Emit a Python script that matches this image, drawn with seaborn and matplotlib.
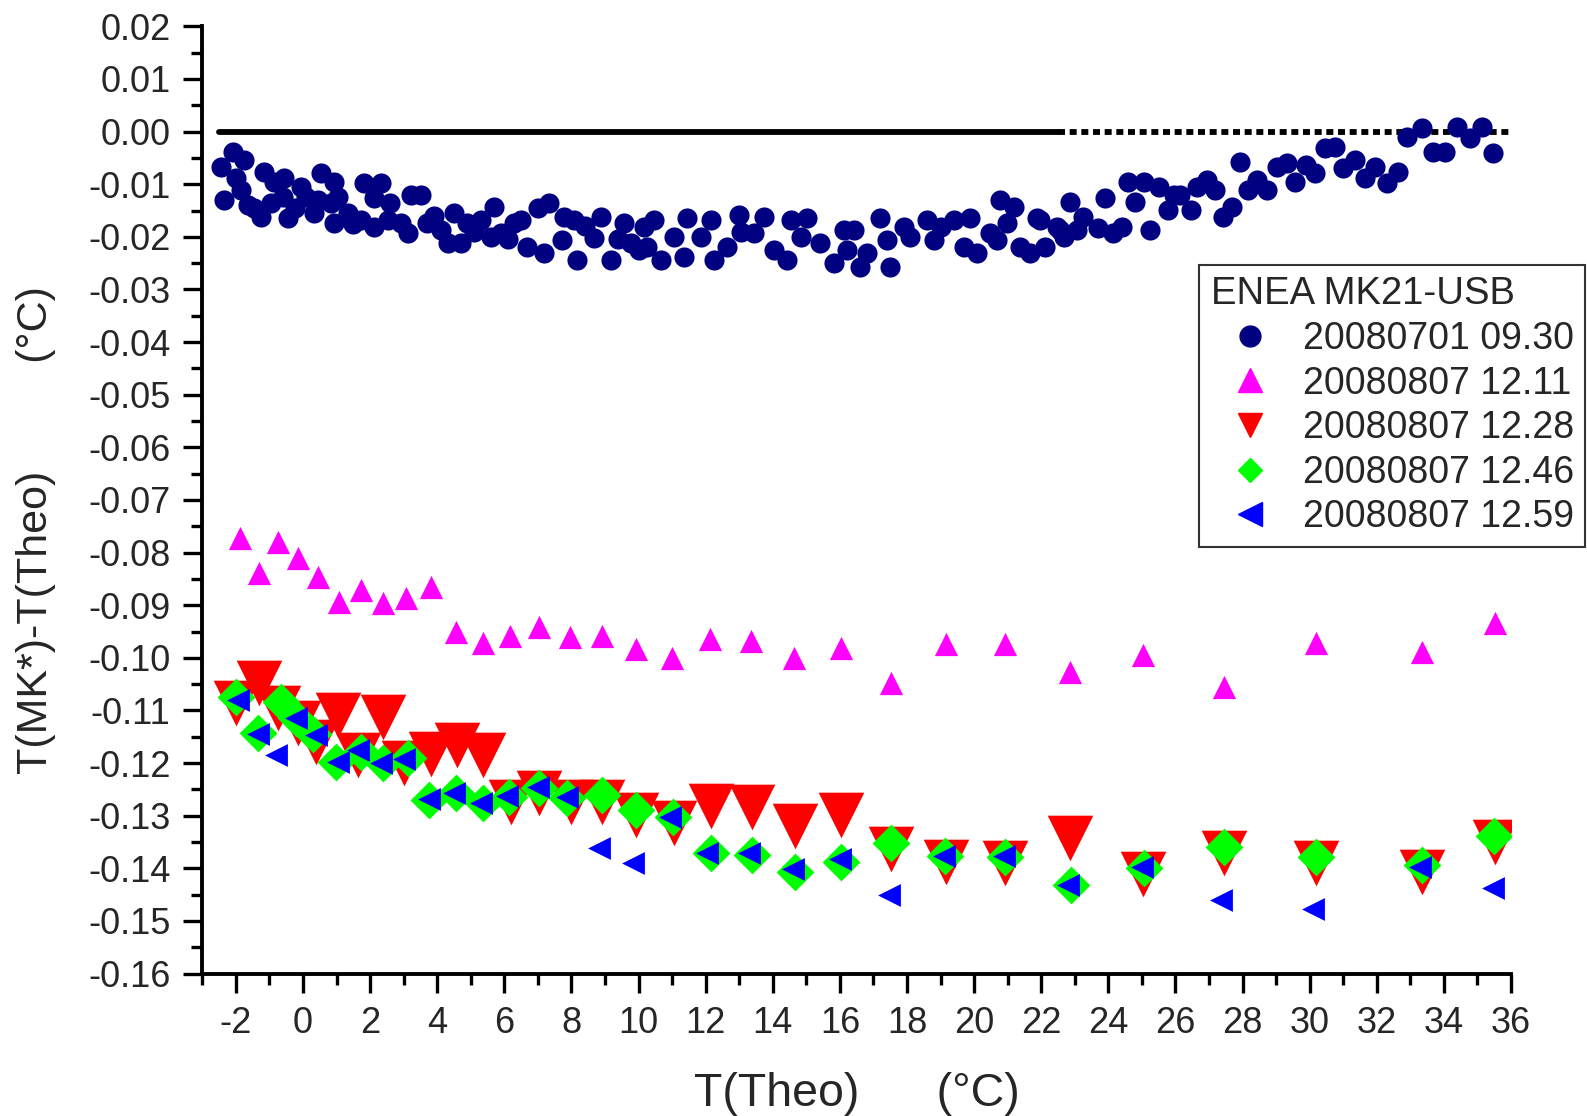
import matplotlib
matplotlib.use("Agg")
import matplotlib.pyplot as plt
from matplotlib.lines import Line2D
from matplotlib.ticker import MultipleLocator, FormatStrFormatter
import numpy as np
import pandas as pd
import seaborn as sns

# ---------------- data ----------------
navy_x = [-2.44, -2.34, -2.09, -2.0, -1.85, -1.75, -1.65, -1.45, -1.25, -1.15, -0.95, -0.85,
          -0.6, -0.56, -0.45, -0.25, -0.06, 0.1, 0.34, 0.44, 0.54, 0.83, 0.93, 0.93, 1.03,
          1.33, 1.5, 1.73, 1.83, 2.12, 2.12, 2.32, 2.52, 2.6, 2.92, 3.12, 3.22, 3.52, 3.71,
          3.9, 4.11, 4.31, 4.5, 4.7, 4.9, 5.1, 5.3, 5.6, 5.7, 5.9, 6.1, 6.3, 6.49, 6.69, 6.99,
          7.18, 7.33, 7.73, 7.78, 8.08, 8.18, 8.4, 8.67, 8.87, 9.17, 9.4, 9.57, 9.77, 10.0,
          10.16, 10.26, 10.46, 10.66, 11.05, 11.35, 11.45, 11.85, 12.15, 12.25, 12.64, 12.99,
          13.04, 13.44, 13.74, 14.03, 14.43, 14.53, 14.83, 15.03, 15.42, 15.82, 16.12, 16.21,
          16.41, 16.61, 16.81, 17.21, 17.4, 17.5, 17.9, 18.1, 18.6, 18.8, 19.0, 19.39, 19.69,
          19.89, 20.09, 20.48, 20.68, 20.78, 20.98, 21.18, 21.38, 21.68, 21.88, 21.97, 22.1,
          22.47, 22.57, 22.67, 22.86, 23.06, 23.26, 23.7, 23.9, 24.15, 24.4, 24.6, 24.8, 25.05,
          25.25, 25.5, 25.77, 25.95, 26.15, 26.45, 26.65, 26.95, 27.18, 27.42, 27.69, 27.93,
          28.17, 28.44, 28.74, 29.04, 29.33, 29.57, 29.9, 30.16, 30.45, 30.75, 31.0, 31.35,
          31.65, 31.95, 32.3, 32.63, 32.9, 33.35, 33.67, 34.03, 34.4, 34.78, 35.13, 35.46]
navy_y = [-0.0067, -0.0130, -0.0038, -0.0089, -0.0111, -0.0054, -0.0140, -0.0145, -0.0162,
          -0.0076, -0.0135, -0.0095, -0.0124, -0.0089, -0.0165, -0.0145, -0.0105, -0.0125,
          -0.0155, -0.0130, -0.0079, -0.0136, -0.0095, -0.0174, -0.0124, -0.0155, -0.0175,
          -0.0168, -0.0098, -0.0127, -0.0181, -0.0098, -0.0168, -0.0135, -0.0174, -0.0193,
          -0.0120, -0.0120, -0.0174, -0.0160, -0.0187, -0.0212, -0.0155, -0.0212, -0.0174,
          -0.0190, -0.0168, -0.0200, -0.0143, -0.0193, -0.0205, -0.0174, -0.0168, -0.0219,
          -0.0146, -0.0231, -0.0136, -0.0206, -0.0162, -0.0168, -0.0244, -0.0180, -0.0203,
          -0.0162, -0.0244, -0.0205, -0.0174, -0.0212, -0.0225, -0.0181, -0.0219, -0.0168,
          -0.0244, -0.0200, -0.0238, -0.0165, -0.0200, -0.0168, -0.0244, -0.0219, -0.0159,
          -0.0190, -0.0193, -0.0162, -0.0225, -0.0244, -0.0168, -0.0200, -0.0165, -0.0212,
          -0.0250, -0.0187, -0.0225, -0.0187, -0.0257, -0.0231, -0.0165, -0.0206, -0.0257,
          -0.0181, -0.0200, -0.0168, -0.0206, -0.0181, -0.0168, -0.0219, -0.0165, -0.0231,
          -0.0193, -0.0206, -0.0130, -0.0174, -0.0143, -0.0219, -0.0231, -0.0165, -0.0168,
          -0.0219, -0.0181, -0.0187, -0.0200, -0.0133, -0.0187, -0.0162, -0.0183, -0.0126,
          -0.0193, -0.0181, -0.0095, -0.0133, -0.0095, -0.0187, -0.0105, -0.0149, -0.0120,
          -0.0120, -0.0149, -0.0105, -0.0092, -0.0111, -0.0162, -0.0143, -0.0057, -0.0111,
          -0.0092, -0.0111, -0.0067, -0.0060, -0.0095, -0.0064, -0.0079, -0.0032, -0.0029,
          -0.0070, -0.0054, -0.0089, -0.0067, -0.0098, -0.0076, -0.0010, 0.0006, -0.0038,
          -0.0038, 0.0009, -0.0013, 0.0009, -0.0041]

mag_x = [-1.87, -1.30, -0.75, -0.16, 0.44, 1.08, 1.73, 2.37, 3.07, 3.81, 4.56, 5.35, 6.18,
         7.04, 7.96, 8.92, 9.93, 11.0, 12.14, 13.35, 14.64, 16.04, 17.53, 19.15, 20.92,
         22.87, 25.03, 27.45, 30.2, 33.34, 35.51]
mag_y = [-0.0773, -0.0838, -0.0779, -0.0811, -0.0846, -0.0893, -0.0871, -0.0896, -0.0887,
         -0.0865, -0.0950, -0.0972, -0.0958, -0.0941, -0.0960, -0.0958, -0.0984, -0.1000,
         -0.0965, -0.0968, -0.1001, -0.0981, -0.1047, -0.0974, -0.0974, -0.1027, -0.0994,
         -0.1056, -0.0972, -0.0989, -0.0933]

red_x = [-2.0, -1.30, -0.74, -0.16, 0.39, 1.05, 1.63, 2.39, 3.02, 3.81, 4.58, 5.35, 6.19,
         7.04, 7.98, 8.92, 9.91, 11.05, 12.15, 13.37, 14.65, 16.04, 17.53, 19.16, 20.93,
         22.87, 25.03, 27.45, 30.2, 33.35, 35.52]
red_y = [-0.1085, -0.1048, -0.1095, -0.1124, -0.1159, -0.1109, -0.1185, -0.1113, -0.1200,
         -0.1182, -0.1166, -0.1185, -0.1273, -0.1257, -0.1273, -0.1273, -0.1299, -0.1313,
         -0.1281, -0.1284, -0.1320, -0.1298, -0.1363, -0.1388, -0.1390, -0.1343, -0.1410,
         -0.1371, -0.1389, -0.1406, -0.1349]

green_x = [-2.0, -1.35, -0.65, -0.2, 0.3, 0.98, 1.73, 2.37, 3.12, 3.76, 4.56, 5.35, 6.14,
           7.04, 7.88, 8.92, 9.91, 11.03, 12.15, 13.37, 14.65, 16.04, 17.53, 19.14, 20.93,
           22.88, 25.05, 27.45, 30.2, 33.35, 35.5]
green_y = [-0.1074, -0.1143, -0.1083, -0.1115, -0.1145, -0.1197, -0.1178, -0.1200, -0.1191,
           -0.1270, -0.1256, -0.1276, -0.1264, -0.1248, -0.1267, -0.1261, -0.1289, -0.1303,
           -0.1370, -0.1374, -0.1406, -0.1387, -0.1351, -0.1377, -0.1378, -0.1432, -0.1400,
           -0.1360, -0.1379, -0.1394, -0.1338]

blue_x = [-1.94, -1.35, -0.80, -0.2, 0.39, 1.03, 1.63, 2.32, 3.02, 3.76, 4.50, 5.30, 6.09,
          6.99, 7.88, 8.82, 9.83, 10.94, 12.05, 13.3, 14.6, 16.0, 17.46, 19.1, 20.9, 22.8,
          25.0, 27.37, 30.11, 33.3, 35.46]
blue_y = [-0.1080, -0.1145, -0.1185, -0.1115, -0.1146, -0.1198, -0.1175, -0.1200, -0.1193,
          -0.1269, -0.1256, -0.1275, -0.1262, -0.1246, -0.1264, -0.1362, -0.1390, -0.1303,
          -0.1371, -0.1371, -0.1401, -0.1382, -0.1451, -0.1377, -0.1377, -0.1432, -0.1398,
          -0.1460, -0.1477, -0.1397, -0.1438]

zero_solid_x = [-2.49, 22.5]
zero_dotted_x = [22.5, 36.0]
zero_y = [0.0, 0.0]

series_labels = ["20080701 09.30", "20080807 12.11", "20080807 12.28",
                 "20080807 12.46", "20080807 12.59"]
legend_title = "ENEA MK21-USB"
x_label = "T(Theo)      (°C)"
y_label = "T(MK*)-T(Theo)         (°C)"

# ---------------- style ----------------
sns.set_style("ticks")
plt.rcParams['font.family'] = ['Liberation Sans', 'DejaVu Sans']
plt.rcParams['axes.unicode_minus'] = False

NAVY, MAG, RED, GREEN, BLUE = "#000080", "#FF00FF", "#FF0000", "#00FF00", "#0000FF"

fig = plt.figure(figsize=(15.87, 11.16), dpi=100)
ax = fig.add_axes([0.1275, 0.1276, 0.8246, 0.8488])

sns.lineplot(x=zero_solid_x, y=zero_y, ax=ax, color="black", lw=4.2, zorder=1)
sns.lineplot(x=zero_dotted_x, y=zero_y, ax=ax, color="black", lw=4.2,
             linestyle=(0, (1.2, 0.8)), zorder=1)

sns.scatterplot(x=navy_x, y=navy_y, ax=ax, color=NAVY, marker="o", s=210,
                linewidth=0, zorder=2)
sns.scatterplot(x=mag_x, y=mag_y, ax=ax, color=MAG, marker="^", s=280,
                linewidth=0, zorder=3)
sns.scatterplot(x=red_x, y=red_y, ax=ax, color=RED, marker="v", s=1080,
                linewidth=0, zorder=4)
sns.scatterplot(x=green_x, y=green_y, ax=ax, color=GREEN, marker="D", s=370,
                linewidth=0, zorder=5)
sns.scatterplot(x=blue_x, y=blue_y, ax=ax, color=BLUE, marker="<", s=270,
                linewidth=0, zorder=6)

ax.set_xlim(-3, 36)
ax.set_ylim(-0.16, 0.02)
ax.xaxis.set_major_locator(MultipleLocator(2))
ax.xaxis.set_minor_locator(MultipleLocator(1))
ax.yaxis.set_major_locator(MultipleLocator(0.01))
ax.yaxis.set_minor_locator(MultipleLocator(0.005))
ax.yaxis.set_major_formatter(FormatStrFormatter("%.2f"))

for side in ["top", "right"]:
    ax.spines[side].set_visible(False)
for side in ["left", "bottom"]:
    ax.spines[side].set_linewidth(2.8)
    ax.spines[side].set_color("black")

ax.tick_params(which="major", direction="out", length=14, width=2.4, labelsize=26,
               color="black", pad=9)
ax.tick_params(which="minor", direction="out", length=8, width=2.4, color="black")

ax.set_xlabel(x_label, fontsize=33.5)
ax.set_ylabel(y_label, fontsize=31)
ax.xaxis.set_label_coords(0.5, -0.104)
ax.yaxis.set_label_coords(-0.112, 0.468)

handles = [
    Line2D([], [], ls="", marker="o", color=NAVY, markersize=15),
    Line2D([], [], ls="", marker="^", color=MAG, markersize=17),
    Line2D([], [], ls="", marker="v", color=RED, markersize=17),
    Line2D([], [], ls="", marker="D", color=GREEN, markersize=12.5),
    Line2D([], [], ls="", marker="<", color=BLUE, markersize=17),
]
leg = fig.legend(handles, series_labels, title=legend_title, loc="upper right",
                 bbox_to_anchor=(0.9987, 0.7625), frameon=True, fancybox=False,
                 edgecolor="black", fontsize=27, title_fontsize=27.5, alignment="left",
                 borderpad=0.3, labelspacing=0.23, handletextpad=0.35, handlelength=2.1,
                 borderaxespad=0.0)
leg.get_frame().set_linewidth(1.5)

fig.savefig("out.png", dpi=100, facecolor="white")
